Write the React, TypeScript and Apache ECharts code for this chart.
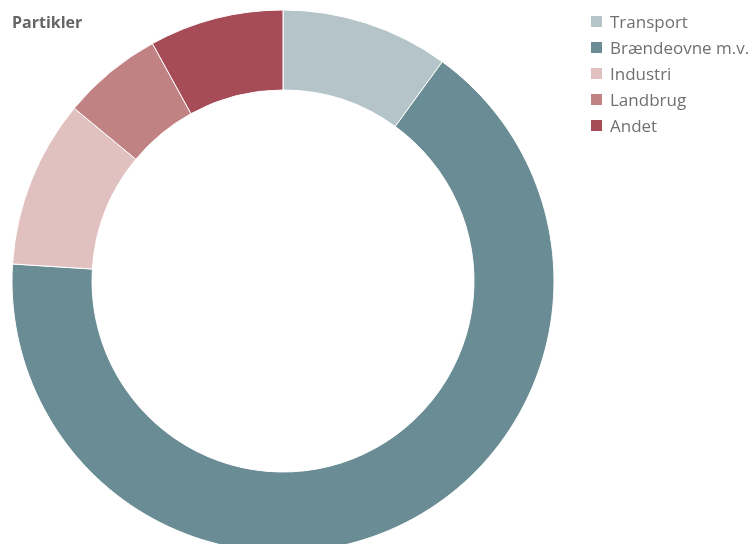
import React, { useEffect, useRef } from "react";
import * as echarts from "echarts";

const categories = ["Transport", "Brændeovne m.v.", "Industri", "Landbrug", "Andet"];
const values = [10, 66, 10, 6, 8];
const colors = ["#b4c4c9", "#6a8c94", "#e1c1bf", "#c08283", "#a64c56"];
const title = "Partikler";

export default function App() {
  const ref = useRef<HTMLDivElement>(null);
  useEffect(() => {
    const chart = echarts.init(ref.current!, null, { renderer: "svg" });
    chart.setOption({
      animation: false,
      title: {
        text: title,
        left: 7,
        top: 9,
        padding: 5,
        textStyle: { fontFamily: "Open Sans", fontWeight: "bold", fontSize: 16, color: "#666666" },
      },
      legend: {
        orient: "vertical",
        left: 584,
        top: 8,
        padding: 5,
        itemWidth: 13,
        itemHeight: 13,
        itemGap: 9,
        icon: "rect",
        textStyle: { fontFamily: "Open Sans", fontSize: 17, color: "#707070", padding: [0, 0, 0, 2] },
        data: categories,
      },
      series: [
        {
          type: "pie",
          center: [283, 281],
          radius: [191, 271],
          startAngle: 90,
          clockwise: true,
          label: { show: false },
          labelLine: { show: false },
          emphasis: { disabled: true },
          itemStyle: { borderColor: "#ffffff", borderWidth: 1 },
          data: categories.map((c, i) => ({ name: c, value: values[i], itemStyle: { color: colors[i] } })),
        },
      ],
    });
    return () => chart.dispose();
  }, []);
  return <div ref={ref} style={{ position: "fixed", left: 0, top: 0, width: 752, height: 544 }} />;
}
